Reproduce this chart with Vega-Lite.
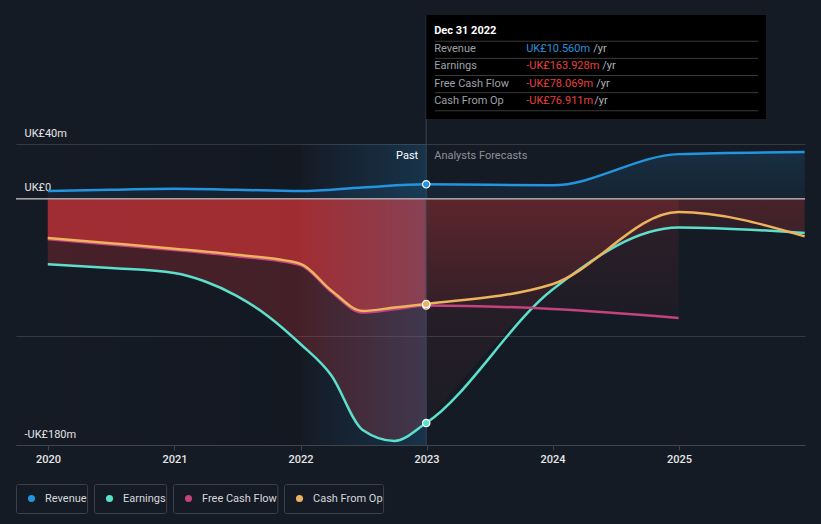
{
"$schema":"https://vega.github.io/schema/vega-lite/v6.json",
"width":789,"height":301,
"autosize":{"type":"none"},
"padding":{"left":16,"top":144,"right":16,"bottom":79},
"background":"#151b25",
"config":{"view":{"stroke":null},"font":"Roboto","text":{"font":"Roboto"}},
"datasets":{
"series":[
{"s":"Revenue","d":"2019-12-31","v":5.6},
{"s":"Revenue","d":"2020-06-30","v":6.6},
{"s":"Revenue","d":"2020-12-31","v":7.3},
{"s":"Revenue","d":"2021-06-30","v":6.6},
{"s":"Revenue","d":"2021-12-31","v":5.6},
{"s":"Revenue","d":"2022-06-30","v":8.2},
{"s":"Revenue","d":"2022-12-31","v":10.56},
{"s":"Revenue","d":"2023-12-31","v":9.8},
{"s":"Revenue","d":"2024-12-31","v":32.6},
{"s":"Revenue","d":"2025-12-31","v":34.1},
{"s":"Earnings","d":"2019-12-31","v":-47.8},
{"s":"Earnings","d":"2020-06-30","v":-50.6},
{"s":"Earnings","d":"2020-12-31","v":-54.3},
{"s":"Earnings","d":"2021-03-31","v":-60.5},
{"s":"Earnings","d":"2021-06-30","v":-71},
{"s":"Earnings","d":"2021-09-30","v":-86},
{"s":"Earnings","d":"2021-12-31","v":-106},
{"s":"Earnings","d":"2022-03-31","v":-129},
{"s":"Earnings","d":"2022-06-30","v":-169},
{"s":"Earnings","d":"2022-09-30","v":-177},
{"s":"Earnings","d":"2022-12-31","v":-163.928},
{"s":"Earnings","d":"2023-12-31","v":-66.5},
{"s":"Earnings","d":"2024-12-31","v":-21},
{"s":"Earnings","d":"2025-12-31","v":-25},
{"s":"Free Cash Flow","d":"2019-12-31","v":-29.6},
{"s":"Free Cash Flow","d":"2020-06-30","v":-33.4},
{"s":"Free Cash Flow","d":"2020-12-31","v":-37.4},
{"s":"Free Cash Flow","d":"2021-06-30","v":-42},
{"s":"Free Cash Flow","d":"2021-12-31","v":-48.5},
{"s":"Free Cash Flow","d":"2022-03-31","v":-68},
{"s":"Free Cash Flow","d":"2022-06-30","v":-83.2},
{"s":"Free Cash Flow","d":"2022-09-30","v":-80.8},
{"s":"Free Cash Flow","d":"2022-12-31","v":-78.069},
{"s":"Free Cash Flow","d":"2023-12-31","v":-80.6},
{"s":"Free Cash Flow","d":"2024-12-31","v":-87.2},
{"s":"Cash From Op","d":"2019-12-31","v":-28.7},
{"s":"Cash From Op","d":"2020-06-30","v":-32.5},
{"s":"Cash From Op","d":"2020-12-31","v":-36.5},
{"s":"Cash From Op","d":"2021-06-30","v":-41},
{"s":"Cash From Op","d":"2021-12-31","v":-47.5},
{"s":"Cash From Op","d":"2022-03-31","v":-67},
{"s":"Cash From Op","d":"2022-06-30","v":-82},
{"s":"Cash From Op","d":"2022-09-30","v":-79.5},
{"s":"Cash From Op","d":"2022-12-31","v":-76.911},
{"s":"Cash From Op","d":"2023-12-31","v":-62.5},
{"s":"Cash From Op","d":"2024-12-31","v":-9.7},
{"s":"Cash From Op","d":"2025-12-31","v":-27.5}
],
"tip":[
{"k":"Revenue","t":"UK£10.560m","n":10.56},
{"k":"Earnings","t":"-UK£163.928m","n":-163.928},
{"k":"Free Cash Flow","t":"-UK£78.069m","n":-78.069},
{"k":"Cash From Op","t":"-UK£76.911m","n":-76.911}
]
},
"layer":[
{
"data":{"values":[{}]},
"mark":{"type":"rect","fill":{"gradient":"linear","x1":0,"y1":0,"x2":1,"y2":0,"stops":[{"offset":0,"color":"rgba(0,0,0,0)"},{"offset":1,"color":"rgba(0,0,0,0.1)"}]}},
"encoding":{
"x":{"datum":{"year":2019,"month":9,"date":30,"utc":true},"type":"temporal","title":null},
"x2":{"datum":{"year":2022,"month":1,"date":1,"utc":true}},
"y":{"datum":40,"type":"quantitative","title":null},
"y2":{"datum":-180}
}
},
{
"data":{"name":"series"},
"transform":[{"filter":"datum.s === 'Revenue'"}],
"mark":{"type":"area","interpolate":"monotone","fill":{"gradient":"linear","x1":0,"y1":0,"x2":0,"y2":1,"stops":[{"offset":0,"color":"rgba(35,148,223,0.16)"},{"offset":1,"color":"rgba(35,148,223,0.07)"}]}},
"encoding":{
"x":{"field":"d","type":"temporal","title":null},
"y":{"field":"v","type":"quantitative","title":null},
"y2":{"datum":0}
}
},
{
"data":{"name":"series"},
"transform":[{"filter":"datum.s !== 'Revenue' && time(datum.d) <= utc(2022,11,31)"}],
"mark":{"type":"area","interpolate":"monotone","fill":"#e6393a"},
"encoding":{
"x":{"field":"d","type":"temporal","title":null},
"y":{"field":"v","type":"quantitative","title":null},
"y2":{"datum":0},
"detail":{"field":"s"},
"opacity":{"condition":{"test":"datum.s === 'Earnings'","value":0.236},"value":0.336}
}
},
{
"data":{"name":"series"},
"transform":[{"filter":"datum.s !== 'Revenue' && time(datum.d) >= utc(2022,11,31)"}],
"mark":{"type":"area","interpolate":"monotone","fill":{"gradient":"linear","x1":0,"y1":0,"x2":0,"y2":1,"stops":[{"offset":0,"color":"rgba(230,57,58,0.13)"},{"offset":1,"color":"rgba(230,57,58,0.03)"}]}},
"encoding":{
"x":{"field":"d","type":"temporal","title":null},
"y":{"field":"v","type":"quantitative","title":null},
"y2":{"datum":0},
"detail":{"field":"s"}
}
},
{
"data":{"values":[{}]},
"mark":{"type":"rect","fill":{"gradient":"linear","x1":0,"y1":0,"x2":1,"y2":0,"stops":[{"offset":0,"color":"rgba(35,148,223,0.0)"},{"offset":1,"color":"rgba(35,148,223,0.2)"}]}},
"encoding":{
"x":{"datum":{"year":2022,"month":1,"date":1,"utc":true},"type":"temporal","title":null},
"x2":{"datum":{"year":2022,"month":12,"date":31,"utc":true}},
"y":{"datum":40,"type":"quantitative","title":null},
"y2":{"datum":-180}
}
},
{
"data":{"values":[{}]},
"mark":{"type":"rule","color":"#33465b","strokeWidth":1},
"encoding":{
"x":{"datum":{"year":2022,"month":12,"date":31,"utc":true},"type":"temporal","title":null},
"y":{"datum":-180,"type":"quantitative","title":null},
"y2":{"datum":134}
}
},
{
"data":{"values":[{}]},
"mark":{"type":"rule","color":"#a3a3a3","strokeWidth":1.5},
"encoding":{
"y":{"datum":0,"type":"quantitative","title":null}
}
},
{
"data":{"name":"series"},
"mark":{"type":"line","interpolate":"monotone","strokeWidth":2.5},
"encoding":{
"x":{"field":"d","type":"temporal","title":null,
"scale":{"type":"utc","domain":[{"year":2019,"month":9,"date":30,"utc":true},{"year":2026,"month":1,"date":1,"utc":true}]},
"axis":{"title":null,"values":[{"year":2020,"month":1,"date":1,"utc":true},{"year":2021,"month":1,"date":1,"utc":true},{"year":2022,"month":1,"date":1,"utc":true},{"year":2023,"month":1,"date":1,"utc":true},{"year":2024,"month":1,"date":1,"utc":true},{"year":2025,"month":1,"date":1,"utc":true}],
"format":"%Y","formatType":"utc","labelColor":"#e6e6e6","labelFontSize":11,"labelFontWeight":500,"tickColor":"#3f444e","domainColor":"#3f444e","tickSize":5,"labelPadding":3,"grid":false,"labelFlush":false,"labelOverlap":false}},
"y":{"field":"v","type":"quantitative","title":null,
"scale":{"domain":[-180,40],"nice":false,"zero":false},
"axis":{"title":null,"values":[40,0,-100,-180],
"labelExpr":"datum.value == -100 ? '' : datum.value == 0 ? 'UK£0' : datum.value < 0 ? '-UK£' + abs(datum.value) + 'm' : 'UK£' + datum.value + 'm'",
"grid":true,"gridColor":"#343943","domain":false,"ticks":false,"tickSize":0,"labelAlign":"left","labelPadding":-8,"labelBaseline":"alphabetic","labelOffset":-8,"labelColor":"#e6e6e6","labelFontSize":11,"labelFlush":false,"labelOverlap":false}},
"color":{"field":"s","type":"nominal",
"scale":{"domain":["Revenue","Earnings","Free Cash Flow","Cash From Op"],"range":["#2394df","#5be0cc","#c4427f","#edb35e"]},
"legend":{"title":null,"orient":"none","legendX":0,"legendY":340,"direction":"horizontal","columns":4,"columnPadding":6,"padding":0,"symbolType":"circle","symbolSize":50,"symbolOffset":10,"labelColor":"#d5d7db","labelFontSize":11,"labelOffset":8,
"labelExpr":"['', datum.label + '       ', '']",
"encode":{
"symbols":{"update":{"fill":{"scale":"color","field":"value"},"strokeWidth":{"value":0},"y":{"field":"size","mult":0.5,"offset":9}}},
"labels":{"update":{"lineHeight":{"value":9},"baseline":{"value":"middle"}}},
"entries":{"update":{"stroke":{"value":"#3b404a"},"strokeWidth":{"value":1},"cornerRadius":{"value":2},"fill":{"value":"transparent"}}}
}}
}
}
},
{
"data":{"name":"series"},
"transform":[{"filter":"time(datum.d) === utc(2022,11,31)"}],
"mark":{"type":"point","filled":true,"size":55,"stroke":"#ffffff","strokeWidth":1.2,"opacity":1},
"encoding":{
"x":{"field":"d","type":"temporal","title":null},
"y":{"field":"v","type":"quantitative","title":null},
"fill":{"field":"s","type":"nominal","legend":null,"scale":{"domain":["Revenue","Earnings","Free Cash Flow","Cash From Op"],"range":["#2394df","#5be0cc","#c4427f","#edb35e"]}}
}
},
{
"data":{"values":[{}]},
"mark":{"type":"text","text":"Past","align":"right","baseline":"middle","dx":-8,"color":"#ffffff","fontSize":11},
"encoding":{
"x":{"datum":{"year":2022,"month":12,"date":31,"utc":true},"type":"temporal","title":null},
"y":{"datum":31.2,"type":"quantitative","title":null}
}
},
{
"data":{"values":[{}]},
"mark":{"type":"text","text":"Analysts Forecasts","align":"left","baseline":"middle","dx":8,"color":"#8c9099","fontSize":11},
"encoding":{
"x":{"datum":{"year":2022,"month":12,"date":31,"utc":true},"type":"temporal","title":null},
"y":{"datum":31.2,"type":"quantitative","title":null}
}
},
{
"data":{"values":[{}]},
"mark":{"type":"rect","fill":"#000000"},
"encoding":{
"x":{"datum":{"year":2022,"month":12,"date":31,"utc":true},"type":"temporal","title":null},
"x2":{"datum":{"year":2025,"month":9,"date":10,"utc":true}},
"y":{"datum":134.3,"type":"quantitative","title":null},
"y2":{"datum":58.3}
}
},
{
"data":{"values":[{}]},
"mark":{"type":"text","text":"Dec 31 2022","align":"left","baseline":"middle","dx":8,"color":"#ffffff","fontSize":11,"fontWeight":"bold"},
"encoding":{
"x":{"datum":{"year":2022,"month":12,"date":31,"utc":true},"type":"temporal","title":null},
"y":{"datum":122.4,"type":"quantitative","title":null}
}
},
{
"data":{"name":"tip"},
"mark":{"type":"rule","color":"#3a3a3a","strokeWidth":1},
"encoding":{
"x":{"datum":{"year":2023,"month":1,"date":25,"utc":true},"type":"temporal","title":null},
"x2":{"datum":{"year":2025,"month":8,"date":18,"utc":true}},
"y":{"datum":115.1,"type":"quantitative","title":null},
"yOffset":{"field":"k","type":"nominal","sort":["Revenue","Earnings","Free Cash Flow","Cash From Op"],"scale":{"type":"point","range":[0,51.4],"padding":0}}
}
},
{
"data":{"values":[{}]},
"mark":{"type":"rule","color":"#3a3a3a","strokeWidth":1},
"encoding":{
"x":{"datum":{"year":2023,"month":1,"date":25,"utc":true},"type":"temporal","title":null},
"x2":{"datum":{"year":2025,"month":8,"date":18,"utc":true}},
"y":{"datum":64.3,"type":"quantitative","title":null}
}
},
{
"data":{"name":"tip"},
"mark":{"type":"text","align":"left","baseline":"middle","dx":8,"color":"#9da1a9","fontSize":11},
"encoding":{
"x":{"datum":{"year":2022,"month":12,"date":31,"utc":true},"type":"temporal","title":null},
"y":{"datum":109.2,"type":"quantitative","title":null},
"yOffset":{"field":"k","type":"nominal","sort":["Revenue","Earnings","Free Cash Flow","Cash From Op"],"scale":{"type":"point","range":[0,51.4],"padding":0}},
"text":{"field":"k"}
}
},
{
"data":{"name":"tip"},
"mark":{"type":"text","align":"left","baseline":"middle","dx":100,"fontSize":11},
"encoding":{
"x":{"datum":{"year":2022,"month":12,"date":31,"utc":true},"type":"temporal","title":null},
"y":{"datum":109.2,"type":"quantitative","title":null},
"yOffset":{"field":"k","type":"nominal","sort":["Revenue","Earnings","Free Cash Flow","Cash From Op"],"scale":{"type":"point","range":[0,51.4],"padding":0}},
"text":{"field":"t"},
"color":{"condition":{"test":"datum.n > 0","value":"#2394df"},"value":"#e8403f"}
}
},
{
"data":{"values":[{}]},
"mark":{"type":"text","text":"/yr","align":"left","baseline":"middle","dx":167,"color":"#b0b3b9","fontSize":11},
"encoding":{
"x":{"datum":{"year":2022,"month":12,"date":31,"utc":true},"type":"temporal","title":null},
"y":{"datum":109.2,"type":"quantitative","title":null}
}
},
{
"data":{"values":[{}]},
"mark":{"type":"text","text":"/yr","align":"left","baseline":"middle","dx":176,"color":"#b0b3b9","fontSize":11},
"encoding":{
"x":{"datum":{"year":2022,"month":12,"date":31,"utc":true},"type":"temporal","title":null},
"y":{"datum":96.68,"type":"quantitative","title":null}
}
},
{
"data":{"values":[{}]},
"mark":{"type":"text","text":"/yr","align":"left","baseline":"middle","dx":170,"color":"#b0b3b9","fontSize":11},
"encoding":{
"x":{"datum":{"year":2022,"month":12,"date":31,"utc":true},"type":"temporal","title":null},
"y":{"datum":84.16,"type":"quantitative","title":null}
}
},
{
"data":{"values":[{}]},
"mark":{"type":"text","text":"/yr","align":"left","baseline":"middle","dx":168,"color":"#b0b3b9","fontSize":11},
"encoding":{
"x":{"datum":{"year":2022,"month":12,"date":31,"utc":true},"type":"temporal","title":null},
"y":{"datum":71.64,"type":"quantitative","title":null}
}
}
]
}
